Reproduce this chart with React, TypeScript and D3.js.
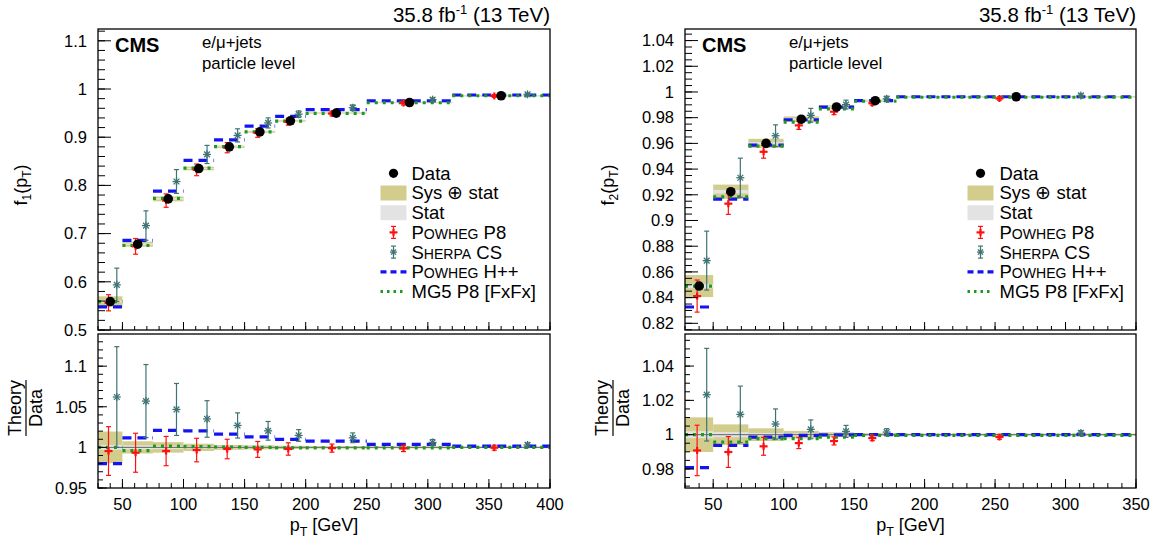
import React from 'react';
import * as d3 from 'd3';

const FONT = "'Liberation Sans', Arial, Helvetica, sans-serif";

// ---------- Left panel (f1) data ----------
const binEdges1 = [30, 50, 75, 100, 125, 150, 175, 200, 250, 320, 400];
const data1 = [0.559, 0.678, 0.772, 0.835, 0.880, 0.911, 0.934, 0.950, 0.972, 0.986];
const sysRel1 = [0.0195, 0.0075, 0.0065, 0.0045, 0.003, 0.0025, 0.002, 0.0015, 0.0012, 0.001];
const statRel1 = [0.003, 0.0025, 0.002, 0.0015, 0.0012, 0.001, 0.0008, 0.0007, 0.0006, 0.0005];
const powP8Ratio1 = [0.9955, 0.9934, 0.9955, 0.9967, 0.998, 0.9975, 0.998, 0.9991, 0.9988, 0.9996];
const powP8Err1 = [0.03, 0.024, 0.018, 0.0145, 0.012, 0.0098, 0.0076, 0.005, 0.004, 0.003];
const sherpaRatio1 = [1.062, 1.057, 1.0467, 1.035, 1.027, 1.0204, 1.0147, 1.0118, 1.006, 1.003];
const sherpaErr1 = [0.062, 0.045, 0.032, 0.0225, 0.0155, 0.0115, 0.0072, 0.006, 0.0037, 0.0025];
const powHppRatio1 = [0.980, 1.0118, 1.021, 1.0204, 1.0163, 1.013, 1.0098, 1.0077, 1.0037, 1.0016];
const mg5Ratio1 = [1.0, 0.996, 1.0015, 1.001, 1.0005, 1.0, 0.9995, 0.9995, 0.9995, 1.0];

// ---------- Right panel (f2) data ----------
const binEdges2 = [30, 50, 75, 100, 125, 150, 180, 350];
const data2 = [0.849, 0.9224, 0.960, 0.9788, 0.9883, 0.9932, 0.9963];
const sysRel2 = [0.0101, 0.006, 0.0037, 0.0022, 0.0014, 0.0008, 0.0006];
const statRel2 = [0.002, 0.0015, 0.001, 0.0008, 0.0006, 0.0004, 0.0003];
const powP8Ratio2 = [0.9908, 0.9899, 0.9932, 0.9951, 0.9963, 0.998, 0.9986];
const powP8Err2 = [0.0147, 0.009, 0.0052, 0.0032, 0.0023, 0.0015, 0.0013];
const sherpaRatio2 = [1.0233, 1.0118, 1.0062, 1.0031, 1.0019, 1.0015, 1.001];
const sherpaErr2 = [0.027, 0.0165, 0.0088, 0.0055, 0.0035, 0.002, 0.0013];
const powHppRatio2 = [0.9808, 0.9938, 0.9986, 0.9996, 0.9999, 1.0, 1.0];
const mg5Ratio2 = [1.0, 0.9957, 0.9977, 0.9977, 0.9986, 0.9996, 0.9996];

// ---------- Ticks ----------
const xTicks1 = [50, 100, 150, 200, 250, 300, 350, 400];
const xTicks2 = [50, 100, 150, 200, 250, 300, 350];
const yTopTicks1 = [0.5, 0.6, 0.7, 0.8, 0.9, 1, 1.1];
const yBotTicks1 = [0.95, 1, 1.05, 1.1];
const yTopTicks2 = [0.82, 0.84, 0.86, 0.88, 0.9, 0.92, 0.94, 0.96, 0.98, 1, 1.02, 1.04];
const yBotTicks2 = [0.98, 1, 1.02, 1.04];

const legendLabels = ['Data', 'Sys ⊕ stat', 'Stat', 'POWHEG P8', 'SHERPA CS', 'POWHEG H++', 'MG5 P8 [FxFx]'];

const C = {
  sys: '#d3cd8d',
  stat: '#e3e3e3',
  red: '#ff1010',
  teal: '#3f7373',
  blue: '#1414f0',
  green: '#1e9a1e',
};

const TOP0 = 29, TOP1 = 330, BOT0 = 334, BOT1 = 488;

const fmt = (v: number) => String(+v.toFixed(3));
function minorRange(lo: number, hi: number, step: number) {
  const out: number[] = [];
  const n0 = Math.ceil(lo / step - 1e-6), n1 = Math.floor(hi / step + 1e-6);
  for (let k = n0; k <= n1; k++) out.push(+(k * step).toFixed(6));
  return out;
}

function SmallCaps({ big, small, rest, size }: any) {
  return (
    <>
      <tspan>{big}</tspan>
      <tspan fontSize={size * 0.76}>{small}</tspan>
      <tspan>{rest}</tspan>
    </>
  );
}

function Star({ x, y, s, color }: any) {
  const d = s * 0.72;
  return (
    <g stroke={color} strokeWidth={1.3}>
      <line x1={x - s} x2={x + s} y1={y} y2={y} />
      <line x1={x} x2={x} y1={y - s} y2={y + s} />
      <line x1={x - d} x2={x + d} y1={y - d} y2={y + d} />
      <line x1={x - d} x2={x + d} y1={y + d} y2={y - d} />
    </g>
  );
}

function ErrBar({ x, yHi, yLo, color }: any) {
  return (
    <g stroke={color} strokeWidth={1.2}>
      <line x1={x} x2={x} y1={yHi} y2={yLo} />
      <line x1={x - 2.5} x2={x + 2.5} y1={yHi} y2={yHi} />
      <line x1={x - 2.5} x2={x + 2.5} y1={yLo} y2={yLo} />
    </g>
  );
}

function Plus({ x, y, color }: any) {
  return (
    <g stroke={color} strokeWidth={2.2}>
      <line x1={x - 4} x2={x + 4} y1={y} y2={y} />
      <line x1={x} x2={x} y1={y - 3.5} y2={y + 3.5} />
    </g>
  );
}

function Panel({ cfg }: any) {
  const { x0, x1, xDomain, xTicks, yTopDomain, yTopTicks, yTopMinor, yBotDomain, yBotTicks, yBotMinor,
    edges, data, sysRel, statRel, p8R, p8E, shR, shE, hppR, mgR, idx, legX, textX } = cfg;
  const xs = d3.scaleLinear().domain(xDomain).range([x0, x1]);
  const yt = d3.scaleLinear().domain(yTopDomain).range([TOP1, TOP0]);
  const yb = d3.scaleLinear().domain(yBotDomain).range([BOT1, BOT0]);
  const n = data.length;
  const bins = d3.range(n).map((i: number) => {
    const lo = edges[i], hi = edges[i + 1], w = hi - lo, c = (lo + hi) / 2;
    return { i, lo, hi, c, xRed: c - 0.07 * w, xSh: c + 0.27 * w };
  });
  const xMinor = minorRange(xDomain[0], xDomain[1], 10);

  const drawSection = (ys: any, base: (i: number) => number, isTop: boolean) => (
    <g>
      {bins.map((b: any) => {
        const v = base(b.i);
        return (
          <g key={'band' + b.i}>
            <rect x={xs(b.lo)} width={xs(b.hi) - xs(b.lo)} y={ys(v * (1 + sysRel[b.i]))}
              height={ys(v * (1 - sysRel[b.i])) - ys(v * (1 + sysRel[b.i]))} fill={C.sys} />
            <rect x={xs(b.lo)} width={xs(b.hi) - xs(b.lo)} y={ys(v * (1 + statRel[b.i]))}
              height={Math.max(1, ys(v * (1 - statRel[b.i])) - ys(v * (1 + statRel[b.i])))} fill={C.stat} />
          </g>
        );
      })}
      {!isTop && <line x1={x0} x2={x1} y1={ys(1)} y2={ys(1)} stroke="#666" strokeWidth={1} />}
      {bins.map((b: any) => (
        <line key={'hpp' + b.i} x1={xs(b.lo)} x2={xs(b.hi)} y1={ys(base(b.i) * hppR[b.i])} y2={ys(base(b.i) * hppR[b.i])}
          stroke={C.blue} strokeWidth={3.2} strokeDasharray="9,6" />
      ))}
      {bins.map((b: any) => (
        <line key={'mg' + b.i} x1={xs(b.lo)} x2={xs(b.hi)} y1={ys(base(b.i) * mgR[b.i])} y2={ys(base(b.i) * mgR[b.i])}
          stroke={C.green} strokeWidth={3.2} strokeDasharray="3,5" />
      ))}
      {bins.map((b: any) => {
        const v = base(b.i);
        return (
          <g key={'sh' + b.i}>
            <ErrBar x={xs(b.xSh)} yHi={ys(v * (shR[b.i] + shE[b.i]))} yLo={ys(v * (shR[b.i] - shE[b.i]))} color={C.teal} />
            <Star x={xs(b.xSh)} y={ys(v * shR[b.i])} s={4} color={C.teal} />
          </g>
        );
      })}
      {bins.map((b: any) => {
        const v = base(b.i);
        return (
          <g key={'p8' + b.i}>
            <ErrBar x={xs(b.xRed)} yHi={ys(v * (p8R[b.i] + p8E[b.i]))} yLo={ys(v * (p8R[b.i] - p8E[b.i]))} color={C.red} />
            <Plus x={xs(b.xRed)} y={ys(v * p8R[b.i])} color={C.red} />
          </g>
        );
      })}
      {isTop && bins.map((b: any) => (
        <circle key={'d' + b.i} cx={xs(b.c)} cy={ys(data[b.i])} r={4.8} fill="#000" />
      ))}
    </g>
  );

  const yAxis = (ys: any, ticks: number[], minor: number, dom: number[], majL: number, minL: number) => (
    <g>
      {minorRange(dom[0], dom[1], minor).map((t) => (
        <line key={'m' + t} x1={x0} x2={x0 + minL} y1={ys(t)} y2={ys(t)} stroke="#000" strokeWidth={1} />
      ))}
      {ticks.map((t) => (
        <g key={'M' + t}>
          <line x1={x0} x2={x0 + majL} y1={ys(t)} y2={ys(t)} stroke="#000" strokeWidth={1} />
          <text x={x0 - 11} y={ys(t)} dy="0.35em" textAnchor="end" fontSize={16.5}>{fmt(t)}</text>
        </g>
      ))}
    </g>
  );

  const xAxis = (yBase: number, majL: number, minL: number, labels: boolean) => (
    <g>
      {xMinor.map((t: number) => (
        <line key={'xm' + t} x1={xs(t)} x2={xs(t)} y1={yBase} y2={yBase - minL} stroke="#000" strokeWidth={1} />
      ))}
      {xTicks.map((t: number) => (
        <g key={'xM' + t}>
          <line x1={xs(t)} x2={xs(t)} y1={yBase} y2={yBase - majL} stroke="#000" strokeWidth={1} />
          {labels && <text x={xs(t)} y={yBase + 22} textAnchor="middle" fontSize={16.5}>{t}</text>}
        </g>
      ))}
    </g>
  );

  const rowY = (k: number) => 173.3 + k * 19.7;
  const fs = 18.5;

  return (
    <g fontFamily={FONT}>
      <clipPath id={'clipT' + idx}><rect x={x0} y={TOP0} width={x1 - x0} height={TOP1 - TOP0} /></clipPath>
      <clipPath id={'clipB' + idx}><rect x={x0} y={BOT0} width={x1 - x0} height={BOT1 - BOT0} /></clipPath>
      <g clipPath={`url(#clipT${idx})`}>{drawSection(yt, (i) => data[i], true)}</g>
      <g clipPath={`url(#clipB${idx})`}>{drawSection(yb, () => 1, false)}</g>
      {yAxis(yt, yTopTicks, yTopMinor, yTopDomain, 13, 7)}
      {yAxis(yb, yBotTicks, yBotMinor, yBotDomain, 9, 5)}
      {xAxis(TOP1, 8, 4, false)}
      {xAxis(BOT1, 9, 5, true)}
      <rect x={x0} y={TOP0} width={x1 - x0} height={TOP1 - TOP0} fill="none" stroke="#000" strokeWidth={1.3} />
      <rect x={x0} y={BOT0} width={x1 - x0} height={BOT1 - BOT0} fill="none" stroke="#000" strokeWidth={1.3} />

      {/* header texts */}
      <text x={x1} y={21.5} textAnchor="end" fontSize={20.5}>
        35.8 fb<tspan dy={-8} fontSize={13}>-1</tspan><tspan dy={8}> (13 TeV)</tspan>
      </text>
      <text x={x0 + 17} y={51.5} fontSize={20} fontWeight="bold">CMS</text>
      <text x={x0 + 104} y={47.5} fontSize={16.8}>e/μ+jets</text>
      <text x={x0 + 104} y={68.5} fontSize={16.8}>particle level</text>

      {/* axis titles */}
      <text transform={`translate(${x0 - 71},185) rotate(-90)`} textAnchor="middle" fontSize={18}>
        f<tspan dy={4} fontSize={12}>{idx}</tspan><tspan dy={-4}>(p</tspan><tspan dy={4} fontSize={12}>T</tspan><tspan dy={-4}>)</tspan>
      </text>
      <g transform={`translate(${x0 - 72},408) rotate(-90)`}>
        <text x={0} y={-5} textAnchor="middle" fontSize={18}>Theory</text>
        <line x1={-28} x2={28} y1={0} y2={0} stroke="#000" strokeWidth={1.2} />
        <text x={0} y={16} textAnchor="middle" fontSize={18}>Data</text>
      </g>
      <text x={(x0 + x1) / 2} y={531} textAnchor="middle" fontSize={18}>
        p<tspan dy={5} fontSize={12.5}>T</tspan><tspan dy={-5}> [GeV]</tspan>
      </text>

      {/* legend */}
      <g>
        <circle cx={legX} cy={rowY(0)} r={4.6} fill="#000" />
        <text x={textX} y={rowY(0)} dy="0.35em" fontSize={fs}>{legendLabels[0]}</text>
        <rect x={legX - 13} y={rowY(1) - 7.5} width={26} height={15} fill={C.sys} />
        <text x={textX} y={rowY(1)} dy="0.35em" fontSize={fs}>{legendLabels[1]}</text>
        <rect x={legX - 13} y={rowY(2) - 7.5} width={26} height={15} fill={C.stat} />
        <text x={textX} y={rowY(2)} dy="0.35em" fontSize={fs}>{legendLabels[2]}</text>
        <ErrBar x={legX} yHi={rowY(3) - 6} yLo={rowY(3) + 6} color={C.red} />
        <Plus x={legX} y={rowY(3)} color={C.red} />
        <text x={textX} y={rowY(3)} dy="0.35em" fontSize={fs}>
          <SmallCaps big="P" small="OWHEG" rest=" P8" size={fs} />
        </text>
        <ErrBar x={legX} yHi={rowY(4) - 6} yLo={rowY(4) + 6} color={C.teal} />
        <Star x={legX} y={rowY(4)} s={3.5} color={C.teal} />
        <text x={textX} y={rowY(4)} dy="0.35em" fontSize={fs}>
          <SmallCaps big="S" small="HERPA" rest=" CS" size={fs} />
        </text>
        <line x1={legX - 13} x2={legX + 13} y1={rowY(5)} y2={rowY(5)} stroke={C.blue} strokeWidth={3.2} strokeDasharray="6,4" />
        <text x={textX} y={rowY(5)} dy="0.35em" fontSize={fs}>
          <SmallCaps big="P" small="OWHEG" rest=" H++" size={fs} />
        </text>
        <line x1={legX - 13} x2={legX + 13} y1={rowY(6)} y2={rowY(6)} stroke={C.green} strokeWidth={3.2} strokeDasharray="2.5,4" />
        <text x={textX} y={rowY(6)} dy="0.35em" fontSize={fs}>{legendLabels[6]}</text>
      </g>
    </g>
  );
}

const panelCfgs = [
  {
    idx: 1, x0: 98, x1: 550, xDomain: [30, 400], xTicks: xTicks1,
    yTopDomain: [0.5, 1.1245], yTopTicks: yTopTicks1, yTopMinor: 0.02,
    yBotDomain: [0.95, 1.1396], yBotTicks: yBotTicks1, yBotMinor: 0.01,
    edges: binEdges1, data: data1, sysRel: sysRel1, statRel: statRel1,
    p8R: powP8Ratio1, p8E: powP8Err1, shR: sherpaRatio1, shE: sherpaErr1, hppR: powHppRatio1, mgR: mg5Ratio1,
    legX: 393.5, textX: 411.5,
  },
  {
    idx: 2, x0: 685, x1: 1136, xDomain: [30, 350], xTicks: xTicks2,
    yTopDomain: [0.8148, 1.049], yTopTicks: yTopTicks2, yTopMinor: 0.005,
    yBotDomain: [0.9689, 1.0587], yBotTicks: yBotTicks2, yBotMinor: 0.005,
    edges: binEdges2, data: data2, sysRel: sysRel2, statRel: statRel2,
    p8R: powP8Ratio2, p8E: powP8Err2, shR: sherpaRatio2, shE: sherpaErr2, hppR: powHppRatio2, mgR: mg5Ratio2,
    legX: 980.5, textX: 999.5,
  },
];

export default function App() {
  return (
    <svg width={1157} height={547} style={{ position: 'absolute', left: 0, top: 0, background: '#fff' }}
      xmlns="http://www.w3.org/2000/svg">
      <rect x={0} y={0} width={1157} height={547} fill="#fff" />
      {panelCfgs.map((c) => <Panel key={c.idx} cfg={c} />)}
    </svg>
  );
}
